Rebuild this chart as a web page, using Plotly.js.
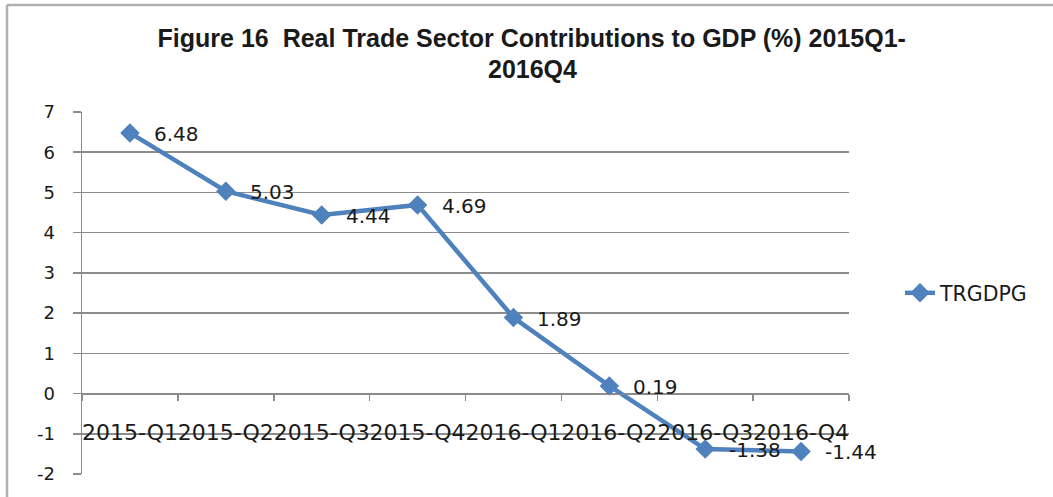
<!DOCTYPE html>
<html>
<head>
<meta charset="utf-8">
<script src="https://cdn.plot.ly/plotly-3.0.1.min.js"></script>
<style>
  html, body { margin: 0; padding: 0; background: #ffffff; }
  #chart { width: 1053px; height: 497px; }
</style>
</head>
<body>
<div id="chart"></div>
<script>
const categories = ["2015-Q1", "2015-Q2", "2015-Q3", "2015-Q4", "2016-Q1", "2016-Q2", "2016-Q3", "2016-Q4"];
const trgdpg = [6.48, 5.03, 4.44, 4.69, 1.89, 0.19, -1.38, -1.44];
const seriesName = "TRGDPG";
const yTicks = [-2, -1, 0, 1, 2, 3, 4, 5, 6, 7];
const yTickLabels = ["-2", "-1", "0", "1", "2", "3", "4", "5", "6", "7"];
const titleLine1 = "Figure 16  Real Trade Sector Contributions to GDP (%) 2015Q1-";
const titleLine2 = "2016Q4";

const lineColor = "#4F81BD";
const gridColor = "#8c8c8c";
const textColor = "#1a1a1a";
const labelFont = "DejaVu Sans, Verdana, sans-serif";
const titleFont = { family: "Liberation Sans, Arial, sans-serif", size: 25, color: textColor, weight: "bold" };

const PL = 82, PR = 849, PT = 112, PB = 474;
const PW = PR - PL, PH = PB - PT;

const trace = {
  type: "scatter",
  mode: "lines+markers",
  x: categories,
  y: trgdpg,
  name: seriesName,
  line: { color: lineColor, width: 4.5 },
  marker: { symbol: "diamond", size: 15, color: lineColor },
  cliponaxis: false
};

const valueLabels = categories.map((c, i) => ({
  x: c, y: trgdpg[i], xref: "x", yref: "y",
  text: trgdpg[i].toFixed(2),
  showarrow: false, xanchor: "left", yanchor: "middle",
  xshift: 22, yshift: -1,
  font: { family: labelFont, size: 20, color: textColor }
}));

const layout = {
  width: 1053,
  height: 497,
  paper_bgcolor: "#ffffff",
  plot_bgcolor: "#ffffff",
  margin: { l: PL, r: 1053 - PR, t: PT, b: 497 - PB },
  title: {
    text: titleLine1,
    font: titleFont,
    x: 0.505, xref: "container", xanchor: "center",
    y: 1 - 47 / 497, yref: "container", yanchor: "bottom"
  },
  xaxis: {
    type: "category",
    range: [-0.5, 7.5],
    anchor: "free",
    position: 2 / 9,
    showgrid: false,
    zeroline: false,
    showline: true,
    linecolor: gridColor,
    linewidth: 1.5,
    ticks: "outside",
    tickson: "boundaries",
    ticklen: 6,
    tickwidth: 1.5,
    tickcolor: gridColor,
    tickangle: 0,
    ticklabelstandoff: 19,
    tickfont: { family: labelFont, size: 22, color: textColor }
  },
  yaxis: {
    range: [-2, 7],
    tickvals: yTicks,
    ticktext: yTickLabels,
    showgrid: true,
    gridcolor: gridColor,
    gridwidth: 1.5,
    zeroline: false,
    showline: true,
    linecolor: gridColor,
    linewidth: 1.5,
    ticks: "outside",
    ticklen: 8,
    tickwidth: 1.5,
    tickcolor: gridColor,
    ticklabelstandoff: 14,
    tickfont: { family: labelFont, size: 18, color: textColor }
  },
  showlegend: true,
  legend: {
    x: (900 - PL) / PW, xanchor: "left",
    y: 0.5, yanchor: "middle",
    font: { family: labelFont, size: 20.5, color: textColor },
    bgcolor: "rgba(0,0,0,0)"
  },
  annotations: [
    {
      text: titleLine2, font: titleFont, showarrow: false,
      xref: "paper", yref: "paper", x: (532 - PL) / PW, xanchor: "center",
      y: (PB - 69) / PH, yanchor: "middle"
    }
  ].concat(valueLabels),
  shapes: [
    { type: "line", xref: "paper", yref: "paper", x0: (7 - PL) / PW, x1: (1060 - PL) / PW, y0: (PB - 5) / PH, y1: (PB - 5) / PH, line: { color: "#b0b0b0", width: 2.5 } },
    { type: "line", xref: "paper", yref: "paper", x0: (7 - PL) / PW, x1: (7 - PL) / PW, y0: (PB - 5) / PH, y1: (PB - 510) / PH, line: { color: "#b0b0b0", width: 2.5 } }
  ]
};

Plotly.newPlot("chart", [trace], layout, { displayModeBar: false, staticPlot: true });
</script>
</body>
</html>
